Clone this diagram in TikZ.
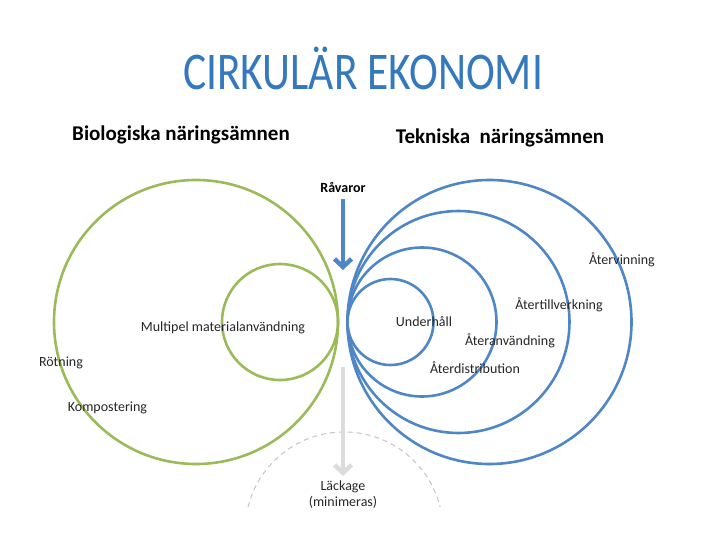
\documentclass[tikz,border=0pt]{standalone}
\usepackage{fontspec}
\setmainfont{Carlito}
\newfontfamily\titlefont[FakeStretch=0.82]{Carlito}
\usetikzlibrary{positioning, arrows.meta}
\definecolor{titleblue}{HTML}{3478BE}
\definecolor{techblue}{HTML}{4F86C6}
\definecolor{biogreen}{HTML}{9BBB59}
\definecolor{leakgray}{HTML}{DCDCDC}
\definecolor{dashgray}{HTML}{C4C4C4}
\definecolor{labeltext}{HTML}{262626}
\tikzset{
  biocircle/.style={draw=biogreen, line width=2.6pt},
  techcircle/.style={draw=techblue, line width=2.6pt},
  cyclelabel/.style={font=\fontsize{14}{16}\selectfont, text=labeltext, inner sep=1pt},
  heading/.style={font=\bfseries\fontsize{21}{24}\selectfont, text=black, inner sep=1pt, anchor=base},
  inflow/.style={draw=techblue, line width=4.5pt, -{Straight Barb[length=8pt, width=17pt]}},
  leakflow/.style={draw=leakgray, line width=4.5pt, -{Straight Barb[length=8pt, width=17pt]}},
}

\begin{document}
\begin{tikzpicture}[x=1pt, y=-1pt]
  \useasboundingbox (0,0) rectangle (720,540);
  \coordinate (b1) at (196,322);
  \coordinate (b2) at (280,322);
  \coordinate (t1) at (489.5,322);
  \coordinate (t2) at (458.5,322);
  \coordinate (t3) at (422,322);
  \coordinate (t4) at (390.5,322);
  \coordinate (inflowtip) at (343,270);
  \coordinate (leakstart) at (343,367);
  \coordinate (leakleft) at (248,507);
  \draw[biocircle] (b1) circle[radius=142];
  \draw[biocircle] (b2) circle[radius=58];
  \foreach \c/\r in {t1/142, t2/111, t3/74.5, t4/43} {\draw[techcircle] (\c) circle[radius=\r];}
  \draw[dashgray, line width=1pt, dash pattern=on 5pt off 4pt] (leakleft) arc[start angle=194, end angle=346, radius=99];
  \node[font=\titlefont\fontsize{53}{60}\selectfont, text=titleblue, anchor=base] (title) at (363,90) {CIRKULÄR EKONOMI};
  \node[heading] (bioheading) at (181,141) {Biologiska näringsämnen};
  \node[heading] (techheading) at (500,144) {Tekniska\ \ näringsämnen};
  \node[cyclelabel, font=\bfseries\fontsize{14}{16}\selectfont, text=black] (ravaror) at (343,187) {Råvaror};
  \node[cyclelabel, align=center] (lackage) at (343,495) {Läckage\\(minimeras)};
  \draw[inflow, shorten <=6pt] (ravaror) -- (inflowtip);
  \draw[leakflow, shorten >=4pt] (leakstart) -- (lackage);
  \node[cyclelabel] (multipel) at (223,328) {Multipel materialanvändning};
  \node[cyclelabel] (rotning) at (61,363) {Rötning};
  \node[cyclelabel] (kompost) at (107.5,408) {Kompostering};
  \node[cyclelabel] (underhall) at (424,322) {Underhåll};
  \node[cyclelabel] (ateranv) at (510,341) {Återanvändning};
  \node[cyclelabel] (aterdistr) at (475,368) {Återdistribution};
  \node[cyclelabel] (atertillv) at (559,305) {Återtillverkning};
  \node[cyclelabel] (atervinn) at (622,260) {Återvinning};
\end{tikzpicture}
\end{document}
